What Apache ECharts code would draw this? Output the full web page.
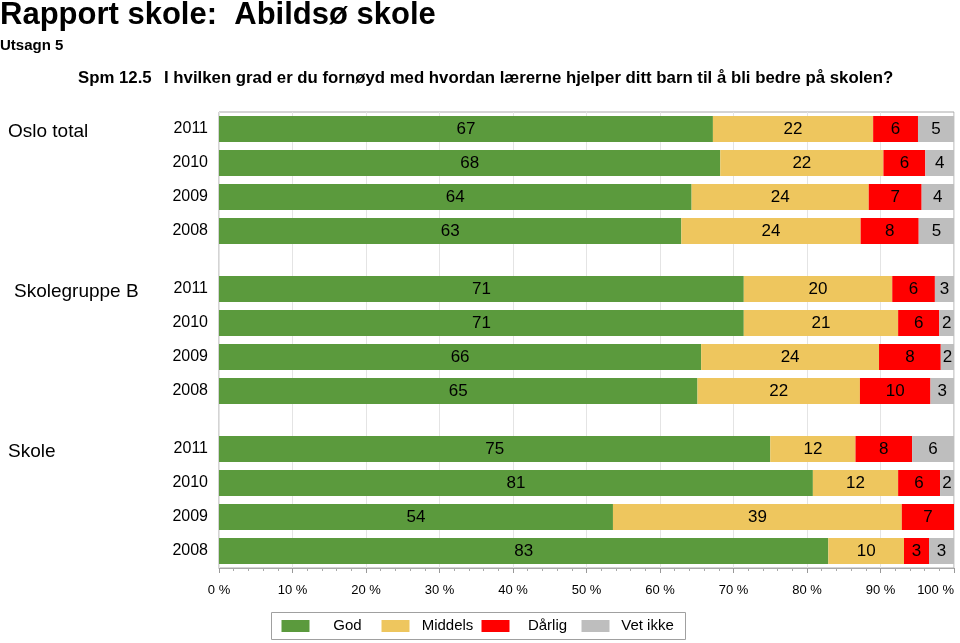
<!DOCTYPE html>
<html>
<head>
<meta charset="utf-8">
<script src="https://cdn.jsdelivr.net/npm/echarts@6/dist/echarts.min.js"></script>
<style>
html,body{margin:0;padding:0;background:#fff;}
#chart{width:960px;height:643px;}
</style>
</head>
<body>
<div id="chart"></div>
<script>
// ---- data ----
const groups = ['Oslo total', 'Skolegruppe B', 'Skole'];
const years = ['2011', '2010', '2009', '2008'];
const seriesNames = ['God', 'Middels', 'Dårlig', 'Vet ikke'];
const seriesColors = ['#5b9a3d', '#eec65e', '#ff0000', '#bebebe'];
// per group: values for 2011, 2010, 2009, 2008 (percent)
const god      = [[67.2, 68.2, 64.3, 62.9], [71.4, 71.4, 65.6, 65.1], [75.0, 80.8, 53.6, 82.9]];
const middels  = [[21.8, 22.2, 24.1, 24.4], [20.2, 21.0, 24.2, 22.1], [11.6, 11.6, 39.3, 10.3]];
const darlig   = [[6.1, 5.7, 7.2, 7.9],     [5.8, 5.6, 8.4, 9.6],     [7.7, 5.7, 7.1, 3.4]];
const vetIkke  = [[4.9, 3.9, 4.4, 4.8],     [2.6, 2.0, 1.8, 3.2],     [5.7, 1.9, 0, 3.4]];
const xTicks = [0, 10, 20, 30, 40, 50, 60, 70, 80, 90, 100];

const title = 'Rapport skole:  Abildsø skole';
const subtitle = 'Utsagn 5';
const questionNo = 'Spm 12.5';
const question = 'I hvilken grad er du fornøyd med hvordan lærerne hjelper ditt barn til å bli bedre på skolen?';

// ---- layout ----
const FONT = '"Liberation Sans", Arial, Helvetica, sans-serif';
const plotLeft = 219, plotRight = 6;
const gridTops = [112, 272, 432];
const gridH = 136;

const chart = echarts.init(document.getElementById('chart'), null, {renderer: 'canvas'});

const grids = [];
const xAxes = [];
const yAxes = [];
const series = [];

// background grid: frame, vertical gridlines, bottom axis
grids.push({left: plotLeft, right: plotRight, top: gridTops[0], height: gridTops[2] + gridH - gridTops[0],
  show: true, borderColor: '#a8a8a8', borderWidth: 1, backgroundColor: 'transparent'});
xAxes.push({type: 'value', gridIndex: 0, min: xTicks[0], max: xTicks[xTicks.length - 1], interval: xTicks[1] - xTicks[0],
  axisLine: {show: true, lineStyle: {color: '#a8a8a8', width: 1}},
  axisTick: {show: true, length: 5, lineStyle: {color: '#999'}},
  minorTick: {show: true, splitNumber: 5, length: 3, lineStyle: {color: '#aaa'}},
  splitLine: {show: true, lineStyle: {color: '#e4e4e4', width: 1}},
  axisLabel: {formatter: '{value} %', fontSize: 13, color: '#000', margin: 16, fontFamily: FONT, alignMaxLabel: 'right'}
});
yAxes.push({type: 'category', gridIndex: 0, data: [''], show: false});

const valueSets = [god, middels, darlig, vetIkke];
groups.forEach(function (g, gi) {
  const idx = gi + 1;
  grids.push({left: plotLeft, right: plotRight, top: gridTops[gi], height: gridH});
  xAxes.push({type: 'value', gridIndex: idx, min: 0, max: 100, show: false});
  yAxes.push({type: 'category', gridIndex: idx, data: years, inverse: true,
    axisLine: {show: false}, axisTick: {show: false}, splitLine: {show: false},
    axisLabel: {fontSize: 16, color: '#000', margin: 11, fontFamily: FONT}});
  seriesNames.forEach(function (name, si) {
    series.push({
      name: name, type: 'bar', stack: 'g' + gi, xAxisIndex: idx, yAxisIndex: idx,
      barWidth: 26, data: valueSets[si][gi],
      itemStyle: {color: seriesColors[si]},
      label: {show: true, position: 'inside', fontSize: 17, color: '#000', fontFamily: FONT,
        formatter: function (p) { return p.value > 0 ? String(Math.round(p.value)) : ''; }},
      emphasis: {disabled: true},
      animation: false
    });
  });
});

const graphic = [
  {type: 'text', x: 0, y: 15, style: {text: title, font: 'bold 31px ' + FONT, fill: '#000', verticalAlign: 'middle'}},
  {type: 'text', x: 0, y: 46, style: {text: subtitle, font: 'bold 15px ' + FONT, fill: '#000', verticalAlign: 'middle'}},
  {type: 'text', x: 78, y: 78, style: {text: questionNo, font: 'bold 16.8px ' + FONT, fill: '#000', verticalAlign: 'middle'}},
  {type: 'text', x: 164, y: 78, style: {text: question, font: 'bold 16.8px ' + FONT, fill: '#000', verticalAlign: 'middle'}}
];
const groupLabelX = [8, 14, 8];
groups.forEach(function (g, gi) {
  graphic.push({type: 'text', x: groupLabelX[gi], y: gridTops[gi] + 20,
    style: {text: g, font: '19px ' + FONT, fill: '#000', verticalAlign: 'middle'}});
});

chart.setOption({
  animation: false,
  textStyle: {fontFamily: FONT},
  grid: grids,
  xAxis: xAxes,
  yAxis: yAxes,
  series: series,
  graphic: graphic,
  legend: {
    data: seriesNames, left: 271.5, top: 612.5, icon: 'rect', itemWidth: 28, itemHeight: 12, itemGap: 1,
    borderColor: '#a0a0a0', borderWidth: 1, padding: [6, 5, 6, 10], selectedMode: false,
    formatter: function (n) { return '{t|' + n + '}'; },
    textStyle: {fontSize: 15, color: '#000', fontFamily: FONT,
      rich: {t: {width: 66, align: 'center', fontSize: 15, lineHeight: 16, fontFamily: FONT, color: '#000'}}}
  }
});
</script>
</body>
</html>
